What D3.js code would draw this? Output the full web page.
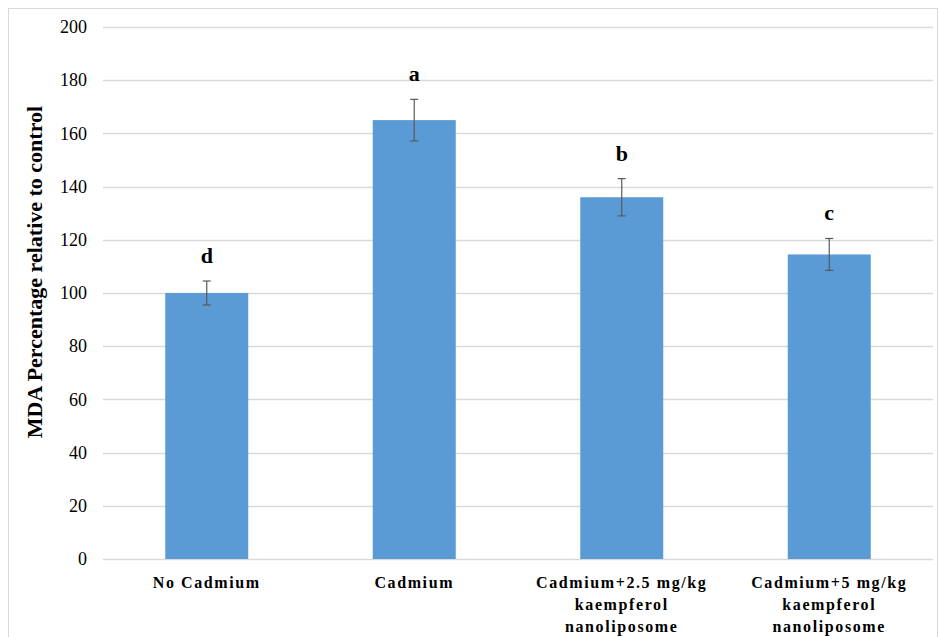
<!DOCTYPE html>
<html lang="en">
<head>
    <meta charset="UTF-8">
    <title>MDA Percentage</title>
    <script src="https://cdnjs.cloudflare.com/ajax/libs/d3/7.8.5/d3.min.js"></script>
    <style>
        body { margin: 0; background: #fff; }
        svg text { font-family: "Liberation Serif", "DejaVu Serif", "Times New Roman", serif; }
    </style>
</head>
<body>
    <div id="chart"></div>
    <script>
        // data
        const categories = [
            ["No Cadmium"],
            ["Cadmium"],
            ["Cadmium+2.5 mg/kg", "kaempferol", "nanoliposome"],
            ["Cadmium+5 mg/kg", "kaempferol", "nanoliposome"]
        ];
        const values = [100, 165, 136, 114.5];
        const errors = [4.5, 7.8, 7, 6];
        const letters = ["d", "a", "b", "c"];
        const yTicks = [0, 20, 40, 60, 80, 100, 120, 140, 160, 180, 200];

        const width = 939, height = 637;
        const margin = { left: 103, right: 6, top: 27, bottom: 78 };

        const svg = d3.select("#chart").append("svg")
            .attr("width", width)
            .attr("height", height);

        // outer frame
        svg.append("rect")
            .attr("x", 8.5).attr("y", 8.5)
            .attr("width", width - 10).attr("height", height)
            .attr("fill", "none")
            .attr("stroke", "#d9d9d9");

        const x = d3.scaleBand()
            .domain(d3.range(categories.length))
            .range([margin.left, width - margin.right]);

        const y = d3.scaleLinear()
            .domain([0, 200])
            .range([height - margin.bottom, margin.top]);

        // gridlines
        svg.append("g")
            .selectAll("line")
            .data(yTicks)
            .enter()
            .append("line")
            .attr("x1", margin.left)
            .attr("x2", width - margin.right)
            .attr("y1", d => Math.round(y(d)) + 0.5)
            .attr("y2", d => Math.round(y(d)) + 0.5)
            .attr("stroke", "#d9d9d9")
            .attr("stroke-width", 1.5);

        // y axis labels
        const yAxis = d3.axisLeft(y).tickValues(yTicks).tickSize(0).tickPadding(16);
        svg.append("g")
            .attr("transform", `translate(${margin.left},0)`)
            .call(yAxis)
            .attr("font-family", null)
            .call(g => g.select(".domain").remove())
            .selectAll("text")
            .attr("font-size", 18)
            .attr("fill", "#000");

        const barW = x.bandwidth() * 0.4;

        // bars
        svg.append("g")
            .selectAll("rect")
            .data(values)
            .enter()
            .append("rect")
            .attr("x", (d, i) => x(i) + (x.bandwidth() - barW) / 2)
            .attr("y", d => y(d))
            .attr("width", barW)
            .attr("height", d => y(0) - y(d))
            .attr("fill", "#5b9bd5");

        // error bars
        const eb = svg.append("g").attr("stroke", "#595959").attr("stroke-width", 1.2);
        values.forEach((v, i) => {
            const cx = x(i) + x.bandwidth() / 2;
            eb.append("line")
                .attr("x1", cx).attr("x2", cx)
                .attr("y1", y(v + errors[i])).attr("y2", y(v - errors[i]));
            [v + errors[i], v - errors[i]].forEach(e => {
                eb.append("line")
                    .attr("x1", cx - 4).attr("x2", cx + 4)
                    .attr("y1", y(e)).attr("y2", y(e));
            });
        });

        // significance letters
        svg.append("g")
            .selectAll("text")
            .data(letters)
            .enter()
            .append("text")
            .attr("x", (d, i) => x(i) + x.bandwidth() / 2)
            .attr("y", (d, i) => y(values[i] + errors[i]) - 18)
            .attr("text-anchor", "middle")
            .attr("font-size", 22)
            .attr("font-weight", "bold")
            .text(d => d);

        // category labels
        const cat = svg.append("g");
        categories.forEach((lines, i) => {
            const t = cat.append("text")
                .attr("x", x(i) + x.bandwidth() / 2)
                .attr("y", y(0) + 29)
                .attr("text-anchor", "middle")
                .attr("font-size", 16)
                .attr("font-weight", "bold")
                .attr("letter-spacing", 1.6);
            lines.forEach((l, j) => {
                t.append("tspan")
                    .attr("x", x(i) + x.bandwidth() / 2)
                    .attr("dy", j === 0 ? 0 : 22)
                    .text(l);
            });
        });

        // y axis title
        svg.append("text")
            .attr("transform", "translate(42,272) rotate(-90)")
            .attr("text-anchor", "middle")
            .attr("font-size", 22)
            .attr("font-weight", "bold")
            .text("MDA Percentage relative to control");
    </script>
</body>
</html>
